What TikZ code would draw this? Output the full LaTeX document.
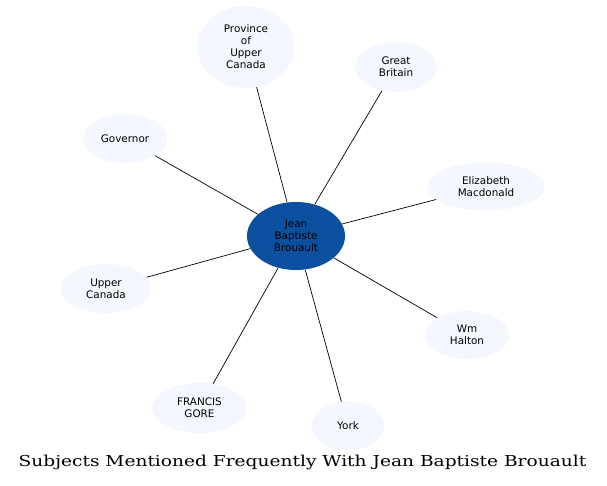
\documentclass[tikz,border=0pt]{standalone}
\usepackage{fontspec}
\usetikzlibrary{shapes.geometric}
\newfontfamily\labelfont{DejaVu Sans}
\newfontfamily\titlefont[FakeStretch=1.24]{DejaVu Serif}
\definecolor{hubblue}{RGB}{10,80,158}
\definecolor{leafblue}{RGB}{244,248,254}
\begin{document}
\begin{tikzpicture}[x=1pt,y=-1pt,
    subject/.style ={ellipse, fill=leafblue, inner sep=0pt, align=center,
      font=\labelfont\fontsize{10.4}{12}\selectfont},
    person/.style ={ellipse, fill=hubblue, inner sep=0pt, align=center,
      minimum width=98pt, minimum height=68pt,
      font=\labelfont\fontsize{10.4}{12}\selectfont},
    link/.style ={line width=0.7pt}]
   \useasboundingbox (0,0) rectangle (607,486);
   \node[subject, minimum width=97pt, minimum height=82pt] (province) at (246,47) {Province\\of\\Upper\\Canada};
   \node[subject, minimum width=82pt, minimum height=50pt] (britain) at (396,67) {Great\\Britain};
   \node[subject, minimum width=84pt, minimum height=49pt] (governor) at (125,138.5) {Governor};
   \node[subject, minimum width=118pt, minimum height=48pt] (elizabeth) at (486,186.5) {Elizabeth\\Macdonald};
   \node[subject, minimum width=91pt, minimum height=49pt] (upper) at (106,288.5) {Upper\\Canada};
   \node[subject, minimum width=84pt, minimum height=48pt] (halton) at (467,335) {Wm\\Halton};
   \node[subject, minimum width=95pt, minimum height=50pt] (gore) at (199.5,408) {FRANCIS\\GORE};
   \node[subject, minimum width=73pt, minimum height=49pt] (york) at (348,426) {York};
   \node[person] (jean) at (296,236) {Jean\\Baptiste\\Brouault};
   \draw[link] (jean) to (province);
   \draw[link] (jean) to (britain);
   \draw[link] (jean) to (governor);
   \draw[link] (jean) to (elizabeth);
   \draw[link] (jean) to (upper);
   \draw[link] (jean) to (halton);
   \draw[link] (jean) to (gore);
   \draw[link] (jean) to (york);
   \node[anchor=base, font=\titlefont\fontsize{15}{18}\selectfont] (title) at (302.5,466) {Subjects Mentioned Frequently With Jean Baptiste Brouault};
\end{tikzpicture}
\end{document}
